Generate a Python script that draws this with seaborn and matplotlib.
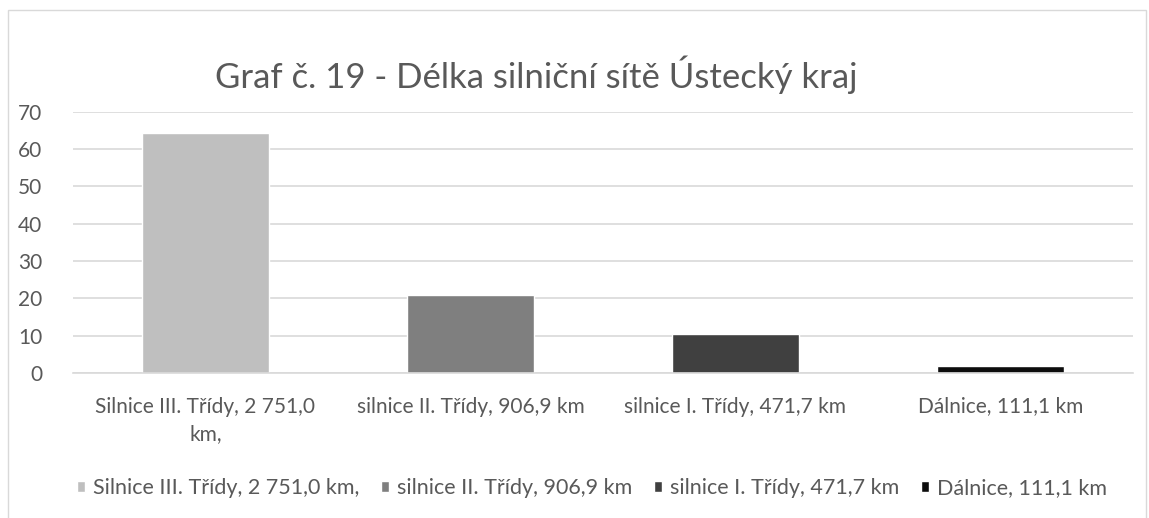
import numpy as np
import pandas as pd
import matplotlib
matplotlib.use('Agg')
import matplotlib.pyplot as plt
import seaborn as sns

# data (share of road network length, %)
categories = ['Silnice III. Třídy, 2 751,0 km,', 'silnice II. Třídy, 906,9 km',
              'silnice I. Třídy, 471,7 km', 'Dálnice, 111,1 km']
tick_labels = ['Silnice III. Třídy, 2 751,0\nkm,', 'silnice II. Třídy, 906,9 km',
               'silnice I. Třídy, 471,7 km', 'Dálnice, 111,1 km']
values = [64.3, 21.0, 10.5, 1.8]
colors = ['#BFBFBF', '#7F7F7F', '#404040', '#0D0D0D']
yticks = [0, 10, 20, 30, 40, 50, 60, 70]

df = pd.DataFrame({'kat': categories, 'hodnota': values})

sns.set_style('white')
plt.rcParams['font.family'] = ['Lato', 'DejaVu Sans']
txt = '#595959'

fig = plt.figure(figsize=(11.49, 5.18), dpi=100)
ax = fig.add_axes([0.0635, 0.28, 0.9225, 0.504])

sns.barplot(data=df, x='kat', y='hodnota', hue='kat', palette=colors,
            dodge=False, width=0.48, legend=True, ax=ax, saturation=1)

ax.set_ylim(0, 70)
ax.set_xlim(-0.5, 3.5)
ax.set_yticks(yticks)
ax.yaxis.grid(True, color='#D9D9D9', linewidth=1.2)
ax.set_axisbelow(True)
ax.set_xlabel('')
ax.set_ylabel('')
for s in ['top', 'right', 'left']:
    ax.spines[s].set_visible(False)
ax.spines['bottom'].set_color('#D9D9D9')
ax.spines['bottom'].set_linewidth(1.2)

ax.set_xticks(range(len(tick_labels)))
ax.set_xticklabels(tick_labels, fontsize=15, color=txt, linespacing=1.45)
ax.tick_params(axis='x', which='major', length=0, pad=17)
ax.set_xticks(np.arange(-0.5, 4.0, 1.0), minor=True)
ax.tick_params(axis='x', which='minor', length=7, color='#D9D9D9', width=1.2)
ax.tick_params(axis='y', length=0, labelsize=15, labelcolor=txt, pad=22)

fig.text(0.467, 0.855, 'Graf č. 19 - Délka silniční sítě Ústecký kraj',
         ha='center', va='center', fontsize=25, color=txt)

leg = ax.legend(loc='center', bbox_to_anchor=(0.515, 0.058),
                bbox_transform=fig.transFigure, ncol=4, frameon=False,
                fontsize=15.5, handlelength=0.4, handleheight=0.4,
                handletextpad=0.35, columnspacing=1.0)
for t in leg.get_texts():
    t.set_color(txt)

# chart frame
fig.patches.append(plt.Rectangle((0.007, -0.01), 0.99, 0.99, transform=fig.transFigure,
                                 fill=False, edgecolor='#D9D9D9', linewidth=1))

fig.savefig('out.png', dpi=100)
